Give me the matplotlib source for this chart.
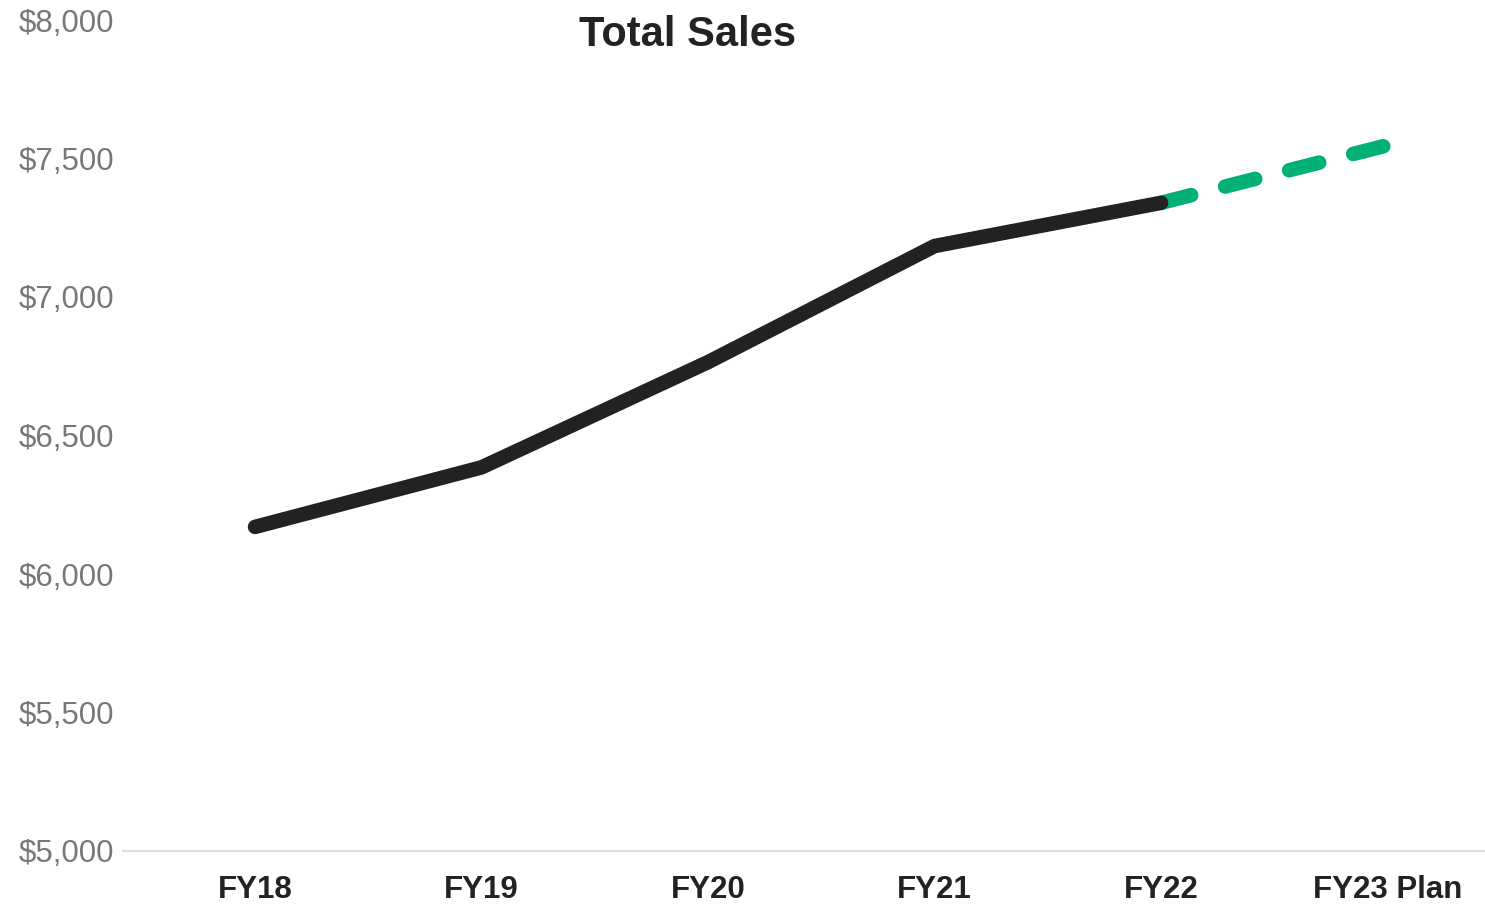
import matplotlib.pyplot as plt
from matplotlib.ticker import FuncFormatter

plt.rcParams["font.family"] = ["Liberation Sans", "DejaVu Sans"]

years = ["FY18", "FY19", "FY20", "FY21", "FY22", "FY23 Plan"]
actual = [6170, 6385, 6765, 7184, 7340]
plan = [7340, 7548]
y_ticks = [5000, 5500, 6000, 6500, 7000, 7500, 8000]

fig = plt.figure(figsize=(14.85, 9.07), dpi=100)
ax = fig.add_axes([123 / 1485, 56 / 907, 1 - 123 / 1485, 831 / 907])

x = list(range(len(years)))
ax.plot(x[4:6], plan, color="#00B074", linewidth=10.5, dashes=(2.13, 2.4),
        solid_capstyle="round", dash_capstyle="round")
ax.plot(x[:5], actual, color="#222222", linewidth=10.5,
        solid_capstyle="round", solid_joinstyle="round")

ax.set_xlim(-0.583, 5.43)
ax.set_ylim(5000, 8000)
ax.set_yticks(y_ticks)
ax.yaxis.set_major_formatter(FuncFormatter(lambda v, p: f"${v:,.0f}"))
ax.set_xticks(x)
ax.set_xticklabels(years, fontweight="bold", color="#222222")

ax.tick_params(axis="y", length=0, labelsize=22.5, labelcolor="#777777", pad=6.5)
ax.tick_params(axis="x", length=0, labelsize=22.5, pad=17)

for s in ["top", "right", "left"]:
    ax.spines[s].set_visible(False)
ax.spines["bottom"].set_color("#dddddd")
ax.spines["bottom"].set_linewidth(1.5)

fig.text(688 / 1485, 1 - 35 / 907, "Total Sales", ha="center", va="center",
         fontsize=30, fontweight="bold", color="#222222")

fig.savefig("out.png", dpi=100)
